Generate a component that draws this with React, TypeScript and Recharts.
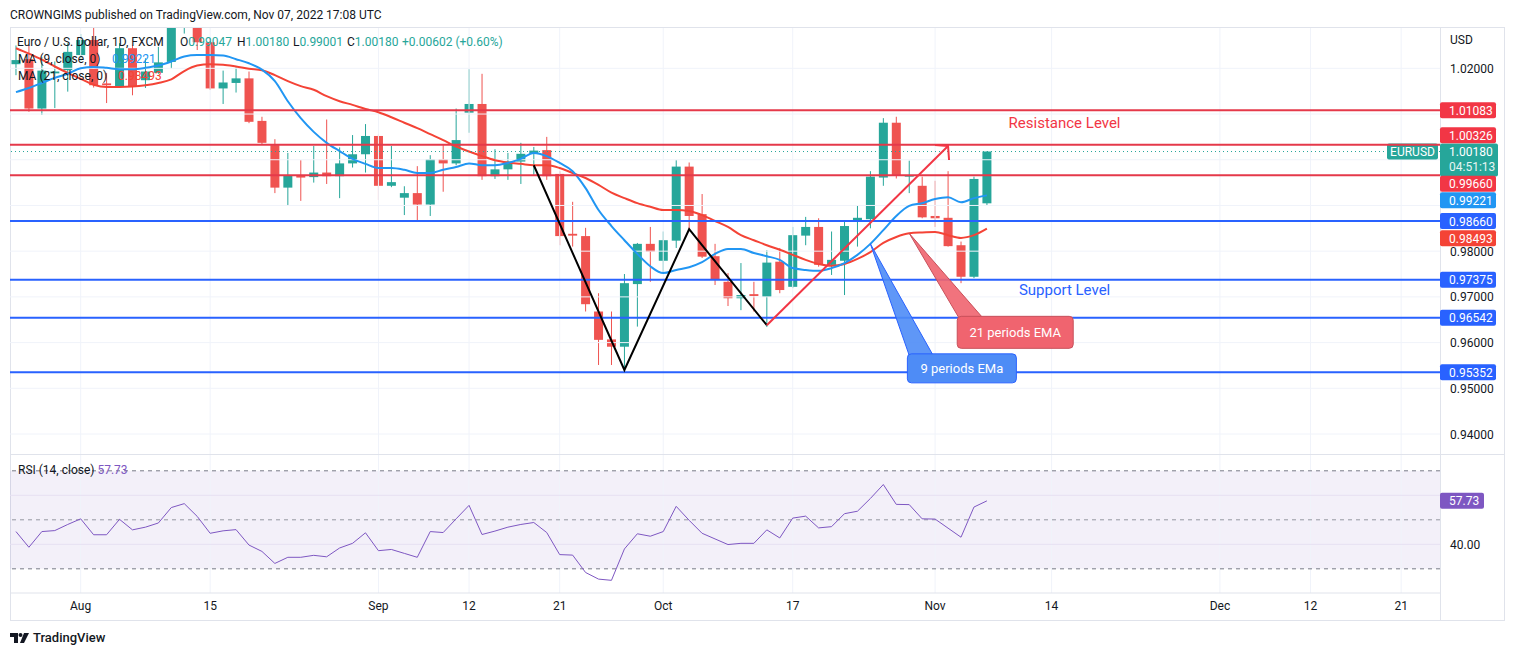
import React from 'react';
import { ComposedChart, Bar, Line, XAxis, YAxis, ReferenceLine, ReferenceDot, ReferenceArea } from 'recharts';

// ---- daily candles, Jul 25 2022 .. Nov 07 2022 (index 0..75) ----
const opens = [1.0209,1.0220,1.0112,1.0189,1.0196,1.0229,1.0262,1.0167,1.0161,1.0244,1.0174,1.0190,1.0214,1.0298,1.0320,1.0257,1.0156,1.0168,1.0178,1.0085,1.0032,0.9939,0.9965,0.9962,0.9972,0.9964,0.9992,1.0012,1.0052,0.9943,0.9917,0.9927,0.9902,1.0001,0.9992,1.0103,1.0122,0.9964,0.9979,0.9996,1.0013,1.0021,0.9969,0.9838,0.9833,0.9668,0.9607,0.9591,0.9728,0.9816,0.9779,0.9823,0.9985,0.9881,0.9789,0.9733,0.9697,0.9706,0.9700,0.9777,0.9722,0.9834,0.9853,0.9770,0.9779,0.9868,0.9870,0.9961,1.0081,0.9963,0.9943,0.9877,0.9873,0.9813,0.9744,0.99047];
const highs = [1.0250,1.0250,1.0225,1.0215,1.0255,1.0275,1.0295,1.0190,1.0255,1.0250,1.0222,1.0247,1.0368,1.0364,1.0330,1.0265,1.0195,1.0202,1.0193,1.0094,1.0045,1.0015,0.9999,1.0030,1.0088,1.0027,1.0054,1.0078,1.0056,1.0030,0.9942,0.9986,1.0010,1.0032,1.0112,1.0198,1.0188,1.0023,1.0015,1.0037,1.0028,1.0050,0.9975,0.9908,0.9851,0.9708,0.9668,0.9750,0.9818,0.9853,0.9843,0.9999,0.9994,0.9925,0.9816,0.9752,0.9774,0.9733,0.9802,0.9807,0.9853,0.9875,0.9872,0.9843,0.9864,0.9899,0.9975,1.0091,1.0094,0.9998,0.9963,0.9954,0.9975,0.9821,0.9963,1.0018];
const lows = [1.0185,1.0105,1.0098,1.0113,1.0149,1.0215,1.0158,1.0124,1.0157,1.0141,1.0157,1.0188,1.0200,1.0276,1.0240,1.0153,1.0122,1.0147,1.0080,1.0033,0.9927,0.9899,0.9910,0.9950,0.9947,0.9916,0.9983,0.9972,0.9912,0.9940,0.9879,0.9868,0.9877,0.9930,0.9988,1.0059,0.9956,0.9958,0.9956,0.9947,0.9967,0.9956,0.9813,0.9810,0.9668,0.9551,0.9551,0.9536,0.9635,0.9733,0.9752,0.9807,0.9848,0.9785,0.9726,0.9680,0.9671,0.9668,0.9634,0.9708,0.9719,0.9813,0.9766,0.9748,0.9704,0.9810,0.9850,0.9943,0.9959,0.9927,0.9872,0.9853,0.9810,0.9730,0.9741,0.99001];
const closes = [1.0218,1.0112,1.0195,1.0193,1.0236,1.0262,1.0163,1.0163,1.0244,1.0161,1.0193,1.0213,1.0298,1.0320,1.0257,1.0156,1.0169,1.0178,1.0083,1.0037,0.9939,0.9965,0.9961,0.9972,0.9964,0.9992,1.0012,1.0052,0.9943,0.9951,0.9927,0.9902,1.0001,0.9992,1.0043,1.0122,0.9964,0.9979,0.9996,1.0013,1.0020,0.9964,0.9833,0.9834,0.9684,0.9606,0.9591,0.9730,0.9816,0.9799,0.9824,0.9985,0.9877,0.9788,0.9737,0.9697,0.9704,0.9702,0.9775,0.9715,0.9835,0.9853,0.9770,0.9781,0.9855,0.9873,0.9963,1.0081,0.9965,0.9966,0.9874,0.9872,0.9811,0.9744,0.9958,1.0018];
const ma9 = [1.0148,1.0157,1.0168,1.0179,1.0188,1.0200,1.0203,1.0201,1.0198,1.0198,1.0201,1.0206,1.0215,1.0226,1.0229,1.0229,1.0228,1.0220,1.0211,1.0197,1.0172,1.0128,1.0091,1.0061,1.0037,1.0019,1.0002,0.9991,0.9982,0.9982,0.9978,0.9971,0.9971,0.9978,0.9984,0.9992,0.9988,0.9988,0.9993,1.0002,1.0015,1.0008,0.9993,0.9975,0.9938,0.9890,0.9855,0.9824,0.9794,0.9767,0.9752,0.9759,0.9765,0.9776,0.9794,0.9805,0.9805,0.9796,0.9789,0.9781,0.9763,0.9759,0.9757,0.9763,0.9774,0.9792,0.9816,0.9846,0.9877,0.9899,0.9905,0.9914,0.9918,0.9907,0.9916,0.99221];
const ma21 = [1.0244,1.0232,1.0219,1.0204,1.0190,1.0177,1.0164,1.0159,1.0159,1.0160,1.0163,1.0168,1.0176,1.0194,1.0206,1.0209,1.0208,1.0204,1.0199,1.0196,1.0185,1.0172,1.0161,1.0153,1.0139,1.0128,1.0120,1.0111,1.0104,1.0093,1.0081,1.0069,1.0056,1.0043,1.0029,1.0018,1.0008,0.9999,0.9994,0.9991,0.9988,0.9988,0.9982,0.9971,0.9960,0.9945,0.9928,0.9916,0.9905,0.9897,0.9890,0.9890,0.9888,0.9879,0.9866,0.9853,0.9835,0.9824,0.9813,0.9803,0.9792,0.9781,0.9772,0.9768,0.9772,0.9783,0.9798,0.9818,0.9831,0.9839,0.9841,0.9842,0.9835,0.9829,0.9835,0.98493];
const rsi = [45.2,38.8,45.2,45.6,48.1,50.4,43.9,43.9,50.2,45.9,47.0,48.7,55.0,56.6,51.4,44.5,45.5,46.0,39.7,37.1,32.2,34.7,34.7,35.5,34.9,38.5,40.4,44.7,37.4,37.9,36.3,34.7,45.2,44.8,50.4,55.9,44.0,45.4,47.0,48.1,48.9,44.8,35.8,35.6,28.5,25.8,25.3,38.1,44.3,43.3,45.2,55.5,49.8,44.5,42.2,39.9,40.4,40.4,45.9,42.6,50.7,51.5,46.7,47.2,52.5,53.5,58.7,64.4,56.3,56.2,50.4,50.3,46.6,42.9,55.2,57.73];

// ---- axis ticks ----
const xTickIdx = [5, 15, 28, 35, 42, 50, 60, 71, 80, 93, 100, 107];
const xTickLabels = ['Aug', '15', 'Sep', '12', '21', 'Oct', '17', 'Nov', '14', 'Dec', '12', '21'];
const priceGrid = [0.94, 0.95, 0.96, 0.97, 0.98, 0.99, 1.0, 1.01, 1.02];
const priceLabels = [0.94, 0.95, 0.96, 0.97, 0.98, 1.02];
const rsiGrid = [40, 60];
const rsiLabels = [40];
const rsiBands = [70, 50, 30];

// ---- drawings ----
const resistanceLevels = [1.01083, 1.00326, 0.9966];
const supportLevels = [0.9866, 0.97375, 0.96542, 0.95352];
const zigIdx = [40, 47, 52, 58];
const zigVal = [0.9988, 0.954, 0.9848, 0.9638];
const trendIdx = [58, 72];
const trendVal = [0.9638, 1.003];
const lastClose = 1.0018;
const lastMa9 = 0.99221;
const lastMa21 = 0.98493;
const lastRsi = 57.73;
const resistanceText = { i: 81, p: 1.008, text: 'Resistance Level' };
const supportText = { i: 81, p: 0.9715, text: 'Support Level' };
const ma21Callout = { i: 69, text: '21 periods EMA' };
const ma9Callout = { i: 66, text: '9 periods EMa' };

// ---- styling ----
const X_DOMAIN: [number, number] = [-0.46, 110];
const PRICE_DOMAIN: [number, number] = [0.93563, 1.02882];
const RSI_DOMAIN: [number, number] = [20.13, 76.45];
const FONT = 'Roboto, "Open Sans", sans-serif';
const TEXT = '#131722';
const UP = '#26a69a';
const DOWN = '#ef5350';
const LEVEL_RED = '#e5394a';
const LEVEL_BLUE = '#2962ff';
const MA9_COLOR = '#2196f3';
const MA21_COLOR = '#f44336';
const RSI_COLOR = '#7e57c2';
const GRID = '#f0f3fa';
const W = 1495;

const data = opens.map((o, i) => ({
  i,
  o,
  h: highs[i],
  l: lows[i],
  c: closes[i],
  range: [lows[i], highs[i]],
  ma9: ma9[i],
  ma21: ma21[i],
  rsi: rsi[i],
  zig: zigIdx.indexOf(i) >= 0 ? zigVal[zigIdx.indexOf(i)] : null,
  trend: trendIdx.indexOf(i) >= 0 ? trendVal[trendIdx.indexOf(i)] : null,
}));

const Candle = (props: any) => {
  const { x, y, width, height, payload } = props;
  if (!payload || height == null) return <g />;
  const { o, h, l, c } = payload;
  const ratio = height / (h - l);
  const py = (p: number) => y + (h - p) * ratio;
  const color = c >= o ? UP : DOWN;
  const top = py(Math.max(o, c));
  const bot = py(Math.min(o, c));
  const cx = x + width / 2;
  return (
    <g>
      <line x1={cx} x2={cx} y1={y} y2={y + height} stroke={color} strokeWidth={1} />
      <rect x={x} y={top} width={width} height={Math.max(1, bot - top)} fill={color} />
    </g>
  );
};

const axisTag = (text: string, color: string, dy = 0, w = 56) => (props: any) => {
  const vb = props.viewBox || {};
  const right = vb.x + vb.width;
  const y = vb.y + dy;
  return (
    <g>
      <rect x={right} y={y - 8} width={w} height={16} rx={2} fill={color} />
      <text x={right + 9} y={y + 4.5} fill="#fff" fontSize={12} fontFamily={FONT}>{text}</text>
    </g>
  );
};

const closeTag = (props: any) => {
  const vb = props.viewBox || {};
  const right = vb.x + vb.width;
  const y = vb.y;
  return (
    <g>
      <rect x={right - 53} y={y - 8} width={51} height={16} rx={2} fill={UP} />
      <text x={right - 27.5} y={y + 4.5} textAnchor="middle" fill="#fff" fontSize={12} fontFamily={FONT}>EURUSD</text>
      <rect x={right} y={y - 8} width={58} height={33} rx={2} fill={UP} />
      <text x={right + 9} y={y + 4.5} fill="#fff" fontSize={12} fontFamily={FONT}>1.00180</text>
      <text x={right + 9} y={y + 19.5} fill="#e6f5f3" fontSize={12} fontFamily={FONT}>04:51:13</text>
    </g>
  );
};

const PriceTick = (props: any) => {
  const v = props.payload.value;
  if (priceLabels.indexOf(v) < 0) return <g />;
  return (
    <text x={props.x} y={props.y + 4.5} fill={TEXT} fontSize={12} fontFamily={FONT}>{v.toFixed(5)}</text>
  );
};

const RsiTick = (props: any) => {
  const v = props.payload.value;
  return (
    <text x={props.x} y={props.y + 4.5} fill={TEXT} fontSize={12} fontFamily={FONT}>{v.toFixed(2)}</text>
  );
};

const ArrowDot = (props: any) => {
  const { cx, cy, index } = props;
  if (index !== trendIdx[1] || cx == null) return <g key={'d' + index} />;
  return (
    <g key={'d' + index}>
      <path d={`M${cx - 13},${cy - 1} L${cx},${cy} L${cx + 1},${cy + 14}`} fill="none" stroke="#f23645" strokeWidth={2} />
    </g>
  );
};

const textShape = (text: string, color: string) => (props: any) => (
  <text x={props.cx} y={props.cy + 5} textAnchor="middle" fill={color} fontSize={15} fontFamily={FONT}>{text}</text>
);

const calloutShape = (text: string, fill: string, stroke: string, dx: number, dy: number, w: number, h: number) => (props: any) => {
  const { cx, cy } = props;
  const bx = cx + dx;
  const by = cy + dy;
  return (
    <g>
      <path d={`M${cx},${cy} L${bx + 26},${by + 2} L${bx + 2},${by + 2} Z`} fill={fill} fillOpacity={0.9} stroke={stroke} strokeWidth={1} />
      <rect x={bx} y={by} width={w} height={h} rx={4} fill={fill} stroke={stroke} strokeWidth={1} />
      <text x={bx + w / 2} y={by + h / 2 + 4.5} textAnchor="middle" fill="#fff" fontSize={13} fontFamily={FONT}>{text}</text>
    </g>
  );
};

const abs = (left: number, top: number, extra: any = {}): React.CSSProperties => ({
  position: 'absolute',
  left,
  top,
  whiteSpace: 'nowrap',
  fontFamily: FONT,
  fontSize: 12,
  lineHeight: '14px',
  color: TEXT,
  ...extra,
});

export default function App() {
  return (
    <div style={{ position: 'absolute', left: 0, top: 0, width: 1514, height: 655, background: '#fff', fontFamily: FONT }}>
      <div style={abs(10, 8)}>CROWNGIMS published on TradingView.com, Nov 07, 2022 17:08 UTC</div>

      {/* frame */}
      <div style={{ position: 'absolute', left: 10, top: 27, width: 1495, height: 594, border: '1px solid #e0e3eb', boxSizing: 'border-box' }} />
      <div style={{ position: 'absolute', left: 1440, top: 27, width: 1, height: 594, background: '#e0e3eb' }} />
      <div style={{ position: 'absolute', left: 10, top: 454, width: 1495, height: 1, background: '#e0e3eb' }} />

      {/* price pane */}
      <div style={{ position: 'absolute', left: 10, top: 28, width: W, height: 426 }}>
        <ComposedChart width={W} height={426} data={data} margin={{ top: 0, right: 0, bottom: 0, left: 0 }}>
          <XAxis type="number" dataKey="i" domain={X_DOMAIN} allowDataOverflow hide ticks={xTickIdx} />
          <YAxis orientation="right" width={65} domain={PRICE_DOMAIN} allowDataOverflow ticks={priceGrid} tickSize={0} tickMargin={10} axisLine={false} tickLine={false} tick={PriceTick} interval={0} />
          {xTickIdx.map((v) => (
            <ReferenceLine key={'vx' + v} x={v} stroke={GRID} strokeWidth={1} />
          ))}
          {priceGrid.map((v) => (
            <ReferenceLine key={'hy' + v} y={v} stroke={GRID} strokeWidth={1} />
          ))}
          <Bar dataKey="range" barSize={9} isAnimationActive={false} shape={(p: any) => <Candle {...p} />} />
          <Line dataKey="ma21" type="monotone" stroke={MA21_COLOR} strokeWidth={2} dot={false} isAnimationActive={false} />
          <Line dataKey="ma9" type="monotone" stroke={MA9_COLOR} strokeWidth={2} dot={false} isAnimationActive={false} />
          <ReferenceLine y={lastClose} stroke={UP} strokeDasharray="1 3" strokeWidth={1} label={closeTag} />
          <ReferenceLine y={resistanceLevels[0]} stroke={LEVEL_RED} strokeWidth={2} label={axisTag('1.01083', '#f23645')} />
          <ReferenceLine y={resistanceLevels[1]} stroke={LEVEL_RED} strokeWidth={2} label={axisTag('1.00326', '#f23645', -9.5)} />
          <ReferenceLine y={resistanceLevels[2]} stroke={LEVEL_RED} strokeWidth={2} label={axisTag('0.99660', '#f23645', 8.5)} />
          <ReferenceLine y={lastMa9} stroke="none" label={axisTag('0.99221', MA9_COLOR, 5)} />
          <ReferenceLine y={supportLevels[0]} stroke={LEVEL_BLUE} strokeWidth={2} label={axisTag('0.98660', LEVEL_BLUE)} />
          <ReferenceLine y={lastMa21} stroke="none" label={axisTag('0.98493', MA21_COLOR, 9.5)} />
          <ReferenceLine y={supportLevels[1]} stroke={LEVEL_BLUE} strokeWidth={2} label={axisTag('0.97375', LEVEL_BLUE)} />
          <ReferenceLine y={supportLevels[2]} stroke={LEVEL_BLUE} strokeWidth={2} label={axisTag('0.96542', LEVEL_BLUE)} />
          <ReferenceLine y={supportLevels[3]} stroke={LEVEL_BLUE} strokeWidth={2} label={axisTag('0.95352', LEVEL_BLUE)} />
          <Line dataKey="zig" type="linear" connectNulls stroke="#000" strokeWidth={2} dot={false} isAnimationActive={false} />
          <Line dataKey="trend" type="linear" connectNulls stroke="#f23645" strokeWidth={2} dot={ArrowDot} isAnimationActive={false} />
          <ReferenceDot x={resistanceText.i} y={resistanceText.p} r={0} shape={textShape(resistanceText.text, '#f23645')} />
          <ReferenceDot x={supportText.i} y={supportText.p} r={0} shape={textShape(supportText.text, LEVEL_BLUE)} />
          <ReferenceDot x={ma21Callout.i} y={ma21[ma21Callout.i]} r={0} shape={calloutShape(ma21Callout.text, '#f0646f', '#c8505a', 48, 83, 116, 32)} />
          <ReferenceDot x={ma9Callout.i} y={ma9[ma9Callout.i]} r={0} shape={calloutShape(ma9Callout.text, '#4e8cf6', '#2962ff', 37, 110, 109, 29)} />
        </ComposedChart>
      </div>

      {/* legend overlay */}
      <div style={abs(17, 35)}>Euro / U.S. Dollar, 1D, FXCM</div>
      <div style={abs(180, 35)}>O<span style={{ color: UP }}>0.99047</span></div>
      <div style={abs(237, 35)}>H<span style={{ color: UP }}>1.00180</span></div>
      <div style={abs(293, 35)}>L<span style={{ color: UP }}>0.99001</span></div>
      <div style={abs(347, 35)}>C<span style={{ color: UP }}>1.00180</span></div>
      <div style={abs(402, 35, { color: UP })}>+0.00602 (+0.60%)</div>
      <div style={abs(18, 52)}>MA (9, close, 0)</div>
      <div style={abs(112, 52, { color: MA9_COLOR })}>0.99221</div>
      <div style={abs(18, 69)}>MA (21, close, 0)</div>
      <div style={abs(118, 69, { color: MA21_COLOR })}>0.98493</div>
      <div style={abs(1450, 33)}>USD</div>

      {/* RSI pane + time axis */}
      <div style={{ position: 'absolute', left: 10, top: 455, width: W, height: 166 }}>
        <ComposedChart width={W} height={166} data={data} margin={{ top: 0, right: 0, bottom: 0, left: 0 }}>
          <XAxis
            type="number"
            dataKey="i"
            domain={X_DOMAIN}
            allowDataOverflow
            ticks={xTickIdx}
            interval={0}
            tickFormatter={(v: number) => xTickLabels[xTickIdx.indexOf(v)]}
            height={28}
            axisLine={{ stroke: '#e0e3eb' }}
            tickLine={false}
            tick={{ fill: TEXT, fontSize: 12, fontFamily: FONT }}
          />
          <YAxis orientation="right" width={65} domain={RSI_DOMAIN} allowDataOverflow ticks={rsiLabels} tickSize={0} tickMargin={10} axisLine={false} tickLine={false} tick={RsiTick} interval={0} />
          {xTickIdx.map((v) => (
            <ReferenceLine key={'rvx' + v} x={v} stroke={GRID} strokeWidth={1} />
          ))}
          <ReferenceArea y1={rsiBands[2]} y2={rsiBands[0]} fill={RSI_COLOR} fillOpacity={0.09} stroke="none" />
          {rsiGrid.map((v) => (
            <ReferenceLine key={'rg' + v} y={v} stroke="#e6e0f2" strokeWidth={1} />
          ))}
          {rsiBands.map((v) => (
            <ReferenceLine key={'rb' + v} y={v} stroke={v === 50 ? '#9598a1' : '#787b86'} strokeDasharray="4 4" strokeWidth={1} />
          ))}
          <Line dataKey="rsi" type="linear" stroke={RSI_COLOR} strokeWidth={1} dot={false} isAnimationActive={false} />
          <ReferenceLine y={lastRsi} stroke="none" label={axisTag('57.73', RSI_COLOR, 0, 44)} />
        </ComposedChart>
      </div>
      <div style={abs(18, 463)}>RSI (14, close) <span style={{ color: RSI_COLOR }}>57.73</span></div>

      {/* TradingView logo */}
      <div style={{ position: 'absolute', left: 10, top: 630, display: 'flex', alignItems: 'center', gap: 3, fontFamily: FONT }}>
        <svg width={20} height={12} viewBox="0 0 20 12">
          <path d="M0 1h8v10H4V5H0z" fill={TEXT} />
          <circle cx={10.5} cy={3} r={2} fill={TEXT} />
          <path d="M14 1h5l-5 10h-4z" fill={TEXT} />
        </svg>
        <span style={{ fontSize: 13, fontWeight: 500, color: TEXT }}>TradingView</span>
      </div>
    </div>
  );
}
